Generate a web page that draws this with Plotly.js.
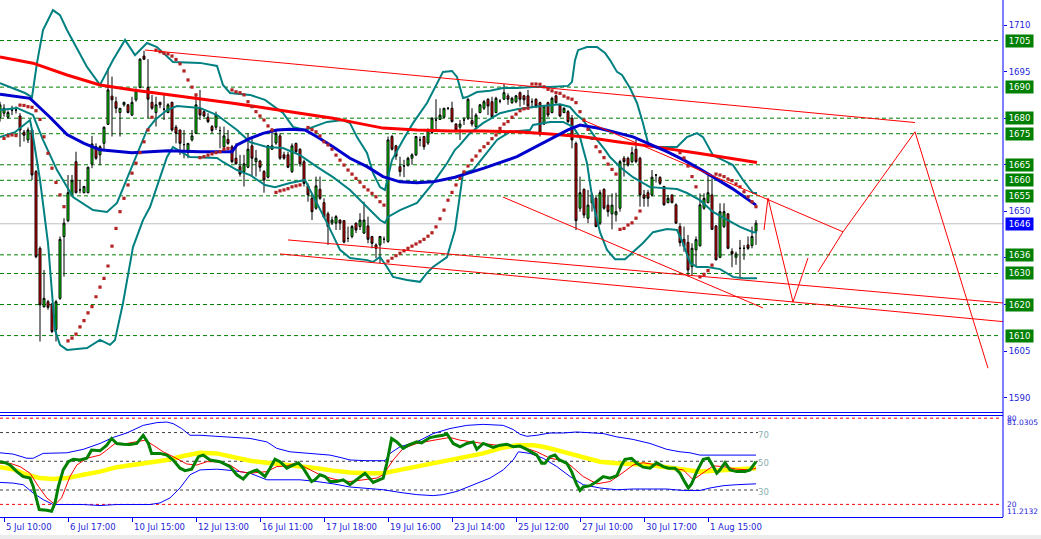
<!DOCTYPE html>
<html><head><meta charset="utf-8">
<script src="https://cdn.plot.ly/plotly-3.0.1.min.js"></script>
<style>html,body{margin:0;padding:0;background:#fff;overflow:hidden}#chart{width:1041px;height:539px}</style>
</head><body><div id="chart"></div>
<script>
// ---------- DATA ----------
const openP = [1680.3,1681.6,1680.3,1682.6,1682.6,1680.7,1675.5,1673.0,1676.2,1662.8,1638.1,1619.3,1620.9,1620.2,1612.0,1622.0,1641.9,1647.0,1655.3,1666.0,1656.9,1656.0,1656.0,1665.2,1670.8,1668.2,1671.9,1678.0,1687.1,1685.3,1681.8,1684.3,1684.3,1681.0,1685.9,1689.9,1700.0,1689.9,1685.1,1681.8,1685.1,1682.9,1681.8,1685.1,1677.1,1676.2,1671.5,1668.9,1673.0,1675.1,1683.2,1682.1,1680.3,1677.3,1677.1,1676.0,1670.8,1673.2,1670.8,1667.1,1664.4,1662.8,1664.2,1671.1,1666.0,1666.2,1662.8,1661.0,1670.0,1672.0,1674.3,1668.2,1668.2,1662.8,1671.9,1670.0,1666.0,1658.2,1654.2,1651.0,1657.1,1652.8,1649.2,1646.2,1646.2,1647.2,1647.0,1641.3,1641.9,1646.2,1645.1,1643.0,1645.3,1641.9,1639.2,1639.2,1641.0,1640.3,1674.1,1671.1,1664.4,1664.6,1664.9,1667.1,1668.2,1673.0,1674.1,1672.0,1675.4,1679.4,1679.6,1680.3,1683.2,1683.2,1678.1,1677.1,1679.4,1680.0,1679.2,1677.3,1681.8,1683.2,1686.1,1685.3,1681.8,1685.5,1686.1,1687.2,1685.0,1685.3,1688.2,1687.2,1687.2,1685.3,1686.1,1685.0,1678.1,1685.0,1681.8,1687.2,1684.3,1681.8,1682.1,1680.0,1671.9,1651.0,1657.1,1647.8,1652.8,1654.2,1646.2,1657.1,1652.0,1649.2,1648.9,1651.0,1667.1,1667.1,1666.0,1670.0,1667.1,1655.3,1656.0,1655.3,1661.7,1661.0,1658.0,1652.8,1655.3,1652.1,1645.1,1641.0,1640.0,1632.2,1637.6,1638.9,1651.0,1652.8,1655.3,1645.3,1635.2,1645.1,1649.2,1637.1,1635.2,1638.1,1638.1,1639.2,1639.0,1643.6];
const highP = [1685.3,1684.5,1682.5,1684.0,1683.8,1681.6,1676.2,1677.0,1676.5,1663.3,1638.7,1631.1,1621.5,1620.4,1621.5,1641.9,1647.8,1661.7,1661.7,1669.2,1660.1,1658.2,1664.4,1674.3,1671.9,1671.3,1677.3,1696.1,1693.4,1686.9,1683.2,1685.3,1684.6,1686.9,1689.6,1699.3,1701.7,1699.0,1687.5,1686.9,1685.3,1688.0,1684.8,1685.3,1677.8,1676.2,1676.2,1671.9,1676.2,1687.5,1689.1,1682.6,1681.6,1677.8,1682.1,1677.3,1677.3,1676.2,1671.4,1671.9,1668.2,1668.2,1675.1,1673.5,1669.8,1666.6,1663.3,1671.4,1676.7,1676.2,1675.1,1669.2,1669.2,1671.9,1672.1,1670.3,1666.6,1659.0,1655.8,1661.2,1661.2,1654.2,1649.9,1648.3,1648.8,1647.4,1647.2,1645.1,1645.6,1646.4,1649.4,1653.1,1648.3,1642.1,1639.7,1642.1,1641.9,1674.1,1674.6,1671.4,1667.6,1666.6,1667.6,1668.7,1674.3,1674.1,1674.3,1676.7,1680.3,1686.1,1683.2,1683.2,1683.5,1685.3,1678.4,1679.4,1680.3,1686.4,1683.2,1681.6,1684.6,1685.9,1686.4,1686.9,1686.9,1686.1,1691.0,1688.0,1686.9,1687.5,1688.6,1687.5,1689.1,1686.4,1686.4,1685.3,1684.3,1685.3,1686.9,1687.5,1684.6,1683.5,1682.6,1681.0,1672.5,1661.2,1657.4,1656.9,1656.0,1654.8,1656.9,1657.4,1655.3,1655.8,1656.0,1666.6,1667.8,1667.6,1670.8,1673.0,1667.6,1656.9,1656.9,1663.3,1662.0,1661.2,1658.2,1655.3,1655.3,1652.6,1646.2,1645.1,1642.4,1639.7,1641.9,1655.8,1655.8,1662.3,1660.6,1645.6,1652.6,1652.6,1649.4,1638.1,1637.0,1640.8,1639.2,1641.9,1645.1,1647.2];
const lowP = [1678.9,1680.5,1679.8,1681.0,1681.5,1670.8,1672.5,1672.0,1660.1,1634.9,1608.1,1619.0,1618.3,1610.8,1608.1,1621.5,1629.0,1646.5,1654.8,1655.8,1655.8,1655.8,1655.8,1663.9,1666.6,1664.9,1669.8,1677.8,1674.1,1681.6,1674.1,1683.7,1681.6,1680.7,1685.3,1689.6,1698.7,1680.0,1682.7,1677.3,1683.2,1679.4,1681.6,1675.7,1671.9,1668.2,1667.1,1667.1,1672.5,1674.9,1679.4,1680.3,1678.4,1675.1,1676.2,1670.3,1670.3,1671.4,1665.5,1665.0,1661.2,1658.0,1663.9,1661.2,1661.2,1662.8,1656.0,1660.6,1669.8,1671.4,1666.6,1666.6,1663.9,1662.3,1668.7,1664.4,1658.0,1653.1,1647.2,1650.5,1653.7,1647.8,1639.2,1645.6,1644.0,1644.0,1639.7,1640.1,1641.3,1643.0,1644.0,1642.7,1639.7,1638.1,1634.9,1633.3,1639.7,1639.9,1669.6,1666.6,1661.2,1661.0,1664.4,1665.0,1667.8,1670.9,1669.8,1671.4,1674.9,1676.2,1679.4,1680.0,1682.6,1678.6,1675.9,1673.0,1677.8,1679.4,1677.3,1676.2,1681.6,1682.6,1681.0,1680.0,1681.6,1684.8,1685.9,1684.3,1684.6,1684.8,1683.7,1684.3,1683.7,1683.2,1683.2,1674.1,1677.8,1680.3,1681.6,1684.6,1680.3,1681.6,1678.4,1670.3,1644.0,1649.9,1647.8,1646.2,1649.9,1644.9,1645.6,1650.5,1648.3,1644.2,1646.7,1649.9,1661.2,1664.4,1665.5,1665.5,1651.5,1651.5,1651.5,1654.8,1659.3,1658.5,1651.8,1652.6,1652.6,1646.0,1638.7,1637.0,1629.0,1629.2,1632.0,1638.7,1650.5,1652.6,1644.0,1634.2,1634.9,1644.6,1637.8,1632.0,1632.8,1628.8,1634.4,1637.6,1638.1,1639.2];
const closeP = [1684.3,1683.2,1681.8,1682.6,1682.6,1676.2,1674.5,1676.2,1661.7,1635.4,1619.9,1622.0,1619.1,1611.3,1620.9,1641.0,1646.2,1656.0,1659.9,1656.0,1656.9,1658.0,1664.2,1671.7,1667.1,1670.8,1677.1,1689.1,1685.9,1683.2,1683.2,1685.1,1681.8,1685.1,1689.1,1699.0,1699.0,1686.1,1683.2,1684.3,1684.3,1682.9,1684.3,1676.2,1675.1,1671.9,1671.5,1671.9,1674.3,1684.3,1681.0,1680.7,1678.9,1676.0,1681.0,1676.0,1674.3,1671.9,1666.0,1665.3,1662.0,1665.3,1670.0,1667.1,1667.1,1664.2,1660.1,1671.1,1671.1,1675.1,1667.1,1667.1,1664.2,1671.1,1669.2,1665.3,1659.0,1655.3,1649.9,1658.2,1654.2,1648.1,1645.1,1647.2,1648.3,1646.2,1640.1,1641.3,1645.1,1644.0,1647.2,1647.2,1641.0,1639.7,1638.1,1641.9,1641.0,1673.0,1670.0,1667.8,1662.8,1664.6,1667.1,1668.2,1674.1,1673.0,1670.8,1676.2,1680.0,1679.4,1681.0,1683.2,1683.2,1678.9,1676.2,1678.1,1679.4,1686.1,1678.1,1681.0,1684.3,1685.3,1683.9,1680.5,1686.4,1685.5,1688.2,1686.1,1686.4,1687.2,1686.1,1685.9,1683.9,1685.3,1683.9,1674.9,1683.9,1681.0,1686.4,1685.0,1680.7,1683.2,1678.9,1673.0,1647.0,1656.0,1648.8,1652.0,1655.3,1645.1,1656.0,1651.0,1649.9,1652.0,1649.9,1666.0,1666.0,1664.9,1668.9,1666.0,1655.3,1654.2,1654.2,1661.0,1661.7,1659.0,1652.1,1654.2,1652.8,1646.2,1639.9,1638.7,1631.1,1638.1,1640.9,1652.1,1654.2,1656.0,1644.2,1634.4,1649.9,1649.9,1638.1,1636.3,1636.3,1638.1,1638.1,1638.1,1641.9,1646.2];

const timeTickIdx = [1,17,33,49,65,81,97,113,129,145,161,177];
const timeTickLabels = ["5 Jul 10:00","6 Jul 17:00","10 Jul 15:00","12 Jul 13:00","16 Jul 11:00","17 Jul 18:00","19 Jul 16:00","23 Jul 14:00","25 Jul 12:00","27 Jul 10:00","30 Jul 17:00","1 Aug 15:00"];
const priceTicks = [1590,1605,1620,1635,1650,1665,1680,1695,1710];
const levelPrices = [1705,1690,1680,1675,1665,1660,1655,1636,1630,1620,1610];
const lastPrice = 1646;
const subLevels = [70,50,30];
const subOuterLevels = [80,20];
const subMax = 81.0305, subMin = 11.2132;

// moving averages (bar index, price)
const maRedIdx = [0,8.25,16.75,25,33.25,41.75,50,58.25,66.75,75,83.25,87.5,95.75,104.25,112.5,120.75,129.25,137.5,145.75,154.25,162.5,175,183.25,189.25];
const maRedVal = [1699.7,1697.7,1693.9,1690.7,1689.1,1687.7,1686.2,1684.8,1683.2,1681.7,1680.0,1678.9,1676.8,1676.2,1675.9,1675.9,1675.6,1674.9,1674.0,1672.4,1671.0,1668.6,1666.8,1665.7];
const maBlueIdx = [0,7.5,12.5,16.75,21,25,33,42,50,58,59.25,62.5,65.75,69.25,72.5,76.25,79.25,83.25,87.5,91.75,95.75,100,104.25,108.25,113.75,121,129.25,137.5,142,145,150,158.25,166.75,171,175,183,189];
const maBlueVal = [1687.7,1686.4,1680.3,1674.7,1671.9,1669.8,1668.9,1669.5,1669.2,1669.2,1671.4,1673.5,1675.1,1676.2,1676.4,1676.2,1674.0,1670.8,1667.1,1664.4,1661.2,1659.5,1659.2,1659.5,1661.0,1663.9,1667.6,1673.0,1676.2,1677.8,1676.7,1674.0,1669.2,1666.5,1663.6,1657.4,1652.0];

// Bollinger bands (bar index, price)
const bbUpIdx = [0,3.25,6.25,8,9.25,10.75,13.25,15,16.75,21.75,25,28.25,31.25,33.75,36.75,39.25,43.25,50,54.25,55.75,57.5,62.5,66.25,70.75,73.25,76.25,78.25,81.75,85.75,87.5,89.25,91.75,93.25,95,96.25,97,98,100.75,103.25,106.75,109.25,110.75,113,114.25,115.75,116.75,119.25,122.5,125.75,129.25,133.25,137.5,142,143,143.75,144.5,146.75,149.25,151.25,152.5,154.25,155.5,157.5,159.25,160.75,162,163.25,166.75,169.25,171.75,174.25,175.75,178.25,180.75,183.25,185.75,188.25,189.25];
const bbUpVal = [1691.3,1689.7,1688.1,1686.8,1697.8,1708.4,1714.8,1713.2,1708.4,1696.5,1690.7,1698.7,1705.2,1700.3,1704.2,1702.9,1698.1,1697.8,1696.8,1690.7,1688.1,1687.5,1685.9,1681.7,1677.2,1676.2,1677.2,1678.8,1679.4,1678.4,1673.9,1668.8,1662.4,1657.8,1656.9,1661.0,1666.5,1673.0,1678.4,1684.9,1691.3,1694.9,1695.2,1693.3,1686.5,1686.8,1688.4,1688.8,1689.7,1689.7,1690.0,1690.0,1690.4,1691.7,1698.7,1701.9,1702.9,1702.9,1701.0,1698.7,1694.9,1693.9,1689.7,1684.9,1678.4,1672.0,1670.7,1670.7,1670.7,1673.9,1675.2,1673.9,1668.1,1666.5,1664.9,1660.1,1655.9,1655.9];
const bbMidIdx = [0,4.25,8.25,10.75,14.25,18.25,23.25,26.75,29.25,33.25,36.75,38.75,41.75,44.25,50,54.25,59.25,62.5,66.75,70.75,75,79.25,83.25,87.5,91.75,95,96.25,97,100,104.25,108.25,111.75,113.75,115,117.5,120.75,125,129.25,133.25,137.5,140,142.5,144.25,145.75,147.5,149.25,151.25,152.5,155,158.25,162.5,166.75,169.25,171.75,175,178.25,181.75,185,188.25,189.25];
const bbMidVal = [1682.6,1683.3,1681.0,1673.0,1663.3,1654.6,1650.4,1649.8,1652.7,1665.5,1676.2,1679.4,1682.6,1683.9,1683.3,1681.0,1676.2,1672.3,1670.7,1670.4,1668.1,1664.3,1661.0,1656.9,1651.4,1647.2,1646.3,1648.2,1650.4,1652.7,1659.1,1665.5,1669.8,1671.4,1675.2,1678.4,1681.6,1682.9,1683.6,1684.2,1684.5,1683.6,1681.0,1679.4,1676.2,1673.0,1669.8,1667.5,1664.3,1661.0,1657.8,1657.5,1657.2,1655.9,1653.6,1649.8,1647.2,1645.0,1643.3,1643.3];
const bbLowIdx = [0,3.75,7.5,8,10,12,13.75,15,16.75,21.75,25,27.5,28.75,30.75,33.25,35.75,37.5,39.25,41.75,43.25,45.75,47.5,54.25,55.75,59.25,62.5,66.25,68.75,72.5,76.25,77.5,81.75,85,87.5,91.75,93.25,95,96.75,98.25,101.75,105,106.75,108.25,111.75,113.75,115.75,118.25,120.75,124.25,127.5,132.5,133.25,137.5,140.75,143.25,145,146.75,148.25,150,151.75,153.75,156.25,158.25,160.75,163.25,166.75,169.25,170.75,172.5,174.25,176.75,180,183.25,185.75,189.25];
const bbLowVal = [1673.9,1675.5,1679.4,1676.2,1660.1,1639.8,1611.8,1607.0,1605.4,1606.0,1608.6,1607.0,1608.6,1620.5,1638.5,1647.2,1651.4,1657.8,1667.5,1670.7,1668.8,1667.5,1667.2,1665.9,1663.3,1661.7,1658.5,1657.8,1659.1,1660.1,1656.9,1646.3,1637.6,1635.0,1634.3,1633.7,1635.3,1632.1,1628.9,1627.9,1627.3,1630.2,1632.1,1635.3,1644.0,1662.3,1663.3,1667.5,1673.0,1675.6,1676.2,1677.8,1678.8,1678.8,1677.2,1673.9,1665.5,1652.7,1643.3,1637.6,1634.6,1634.6,1636.9,1639.8,1643.3,1644.3,1644.0,1639.8,1633.4,1632.1,1632.1,1631.4,1628.9,1628.5,1628.5];

// Parabolic SAR (bar index, price)
const sarIdx = [1,2,3,4,5,6,7,8,9,10,11,12,13,14,15,16,17,18,19,20,21,22,23,24,25,26,27,28,29,30,31,32,33,34,35,36,37,38,39,40,41,42,43,44,45,46,47,48,49,50,51,52,53,54,55,56,57,58,59,60,61,62,63,64,65,66,67,68,69,70,71,72,73,74,75,77,78,79,80,81,82,83,84,85,86,87,88,89,90,91,92,93,94,95,96,97,98,99,100,101,102,103,104,105,106,107,108,109,110,111,112,113,114,115,116,117,118,119,120,121,122,123,124,125,126,127,128,129,130,131,132,133,134,135,136,137,138,139,140,141,142,143,144,145,146,147,148,149,150,151,152,153,154,155,156,157,158,159,160,170,171,172,173,174,175,176,177,178,179,180,181,182,183,184,185,186,187,188,189];
const sarVal = [1673.5,1674.3,1674.6,1674.4,1684.2,1684.1,1683.7,1683.5,1682.4,1679.6,1674.0,1668.7,1663.9,1659.3,1655.3,1651.5,1608.3,1609.2,1610.5,1612.8,1614.8,1617.3,1619.3,1622.5,1625.6,1628.4,1632.4,1638.8,1644.5,1649.9,1654.2,1658.5,1662.3,1665.5,1668.9,1672.4,1676.2,1680.3,1701.9,1701.4,1700.9,1700.7,1700.0,1698.9,1697.5,1695.2,1692.3,1690.0,1687.5,1667.3,1667.6,1668.1,1668.5,1668.9,1669.2,1670.0,1670.3,1689.1,1688.5,1688.2,1687.5,1685.3,1683.7,1682.1,1680.7,1679.4,1677.5,1676.2,1656.1,1656.6,1656.9,1657.3,1657.9,1658.2,1658.5,1677.0,1676.3,1675.6,1674.3,1672.4,1671.4,1670.0,1668.1,1666.5,1664.9,1663.3,1662.0,1660.6,1659.4,1657.9,1656.9,1655.8,1654.7,1653.1,1652.0,1634.0,1634.9,1635.7,1636.5,1637.3,1638.1,1638.8,1639.5,1640.2,1641.0,1642.0,1643.1,1645.0,1647.6,1650.4,1653.6,1656.1,1658.5,1660.6,1662.7,1664.6,1666.5,1667.8,1669.5,1670.8,1671.9,1673.4,1674.6,1676.7,1678.1,1678.9,1680.3,1681.3,1682.4,1683.0,1683.2,1691.0,1691.0,1690.9,1690.1,1689.3,1688.8,1688.2,1688.0,1687.1,1686.5,1686.1,1685.0,1682.1,1679.4,1676.4,1673.5,1670.8,1669.2,1667.3,1665.2,1663.5,1662.0,1644.2,1644.5,1645.6,1646.3,1647.8,1650.1,1668.9,1667.2,1664.6,1661.2,1657.9,1628.9,1629.7,1630.9,1632.7,1662.0,1661.7,1661.2,1660.4,1659.9,1658.8,1657.9,1656.3,1654.7,1653.1,1651.5];

// hand-drawn trend lines (bar index, price)
const tlUpperIdx = [36.25,228.75], tlUpperVal = [1701.95,1678.6];
const tlLow1Idx = [72,250.75], tlLow1Val = [1640.8,1620.5];
const tlLow2Idx = [70,250.75], tlLow2Val = [1636.3,1614.5];
const tlDesc1Idx = [125.75,190.75], tlDesc1Val = [1654.6,1618.9];
const tlDesc2Idx = [145.75,210.75], tlDesc2Val = [1679.4,1643.4];
const zigAIdx = [191,192,198.25,202], zigAVal = [1644.0,1654.3,1620.8,1635.0];
const zigBIdx = [204.5,210.75,228.75,247], zigBVal = [1630.5,1643.4,1675.6,1599.5];

// sub window: RSI & companions (bar index, value)
const rsiIdx = [0,1.25,2.5,4.2,5.8,7.5,8.3,9.2,9.8,11.7,12.9,13.75,14.6,15.8,17.1,18.3,20,21.7,22.9,25,26.7,27.9,29.2,30.8,32.5,34.2,35.8,37.1,37.9,40,41.7,43.3,45,46.25,47.9,49.6,50.8,52.5,55,57.5,59.2,60.8,62.1,64.2,66.25,67.5,68.75,70,71.7,73.3,74.6,75.8,77.9,78.75,80,81.25,82.5,84.2,85.8,87.5,89.2,91.25,93.3,95.8,96.7,97.9,99.2,100.8,102.1,104.2,105.4,107.5,109.2,110.8,111.7,113.3,115,116.7,118.3,119.2,120.8,122.1,123.3,125,126.7,128.3,130,131.7,133.3,134.2,135.4,136.25,137.5,138.75,139.6,141.7,142.9,144.2,145,145.8,147.5,149.2,150.8,152.5,154.2,155.4,156.25,157.9,159.2,160.8,162.5,164.2,165.8,167.1,168.75,170,171.25,172.1,172.9,174.2,175.8,177.1,178.3,179.2,180,181.25,182.5,184.2,186.25,187.5,189];
const rsiVal = [49.7,49.0,47.4,42.8,39.4,38.3,32.5,23.3,16.4,15.9,15.2,21.0,32.5,44.0,49.7,51.4,50.9,52.1,57.8,57.3,61.2,65.9,62.4,61.9,61.7,62.4,68.1,62.4,55.5,55.5,54.3,50.9,45.2,43.5,44.5,53.2,54.3,50.9,49.7,46.3,40.6,37.6,41.7,44.0,39.4,45.2,51.4,49.7,45.2,47.4,49.0,45.2,35.9,37.1,40.6,39.4,35.9,35.9,37.1,33.7,37.1,41.7,35.3,38.3,48.6,65.9,63.5,59.0,61.2,63.5,62.8,66.5,67.4,68.1,69.3,62.4,60.1,62.4,63.5,58.3,62.4,61.2,59.7,61.2,61.9,60.1,60.6,58.3,55.9,54.3,48.6,48.6,53.2,54.3,51.4,48.6,42.8,33.7,29.7,32.1,33.0,35.9,39.4,38.3,39.9,47.4,51.4,52.1,48.6,45.9,45.2,49.0,46.3,45.2,45.2,41.7,35.3,31.4,34.3,42.8,51.4,52.1,46.3,41.7,44.0,49.0,44.0,42.8,42.8,44.0,49.7];
const fastIdx = [0,2.5,5,7.5,9.6,11.7,13.75,15.4,17.5,19.2,21.7,25,26.7,28.75,31.7,34.2,36.25,38.3,40.8,43.3,46.7,49.2,51.7,54.2,57.5,60,62.5,66.7,69.2,71.7,74.2,76.7,80,82.5,85,87.5,90.8,94.2,95.8,98.3,100.8,104.2,107.5,110.8,112.5,115,117.5,120.8,124.2,127.5,130.8,134.2,137.5,140.8,142.5,145.8,149.2,152.5,155,158.3,160.8,164.2,167.5,170.8,173.3,175.8,178.3,180.8,184.2,187.5,189];
const fastVal = [48.6,48.6,46.3,41.7,32.5,24.5,19.9,24.5,39.4,47.4,52.1,54.3,57.8,62.4,62.4,63.5,64.7,61.2,56.6,53.2,48.1,47.4,49.7,49.7,47.4,42.8,41.7,42.8,46.3,46.8,49.0,45.2,40.6,38.3,36.6,35.9,37.1,38.3,40.6,50.9,59.0,62.4,64.2,65.9,66.6,64.7,63.5,62.4,61.2,61.2,59.7,56.6,52.1,50.4,47.4,39.4,34.3,35.9,40.6,47.4,49.0,47.4,45.2,44.0,37.1,41.7,46.8,46.3,44.5,44.0,45.2];
const slowIdx = [0,3.3,6.7,10,13.3,16.7,20.8,25,29.2,33.3,37.5,41.7,45.8,50,54.2,58.3,62.5,66.7,70.8,75,79.2,83.3,87.5,91.7,95.8,100,104.2,108.3,112.5,116.7,120.8,125,129.2,133.3,135.8,139.2,142.5,145.8,150,154.2,158.3,162.5,166.7,170.8,175,179.2,183.3,189];
const slowVal = [45.9,44.5,40.6,38.3,37.6,38.3,40.6,42.8,45.9,47.4,49.0,50.9,53.7,55.9,55.5,53.2,50.4,49.0,47.9,46.8,45.2,43.5,42.2,41.7,41.7,44.0,46.3,48.6,50.9,53.2,55.5,59.0,61.2,61.2,60.1,57.8,55.5,53.2,49.7,48.6,48.1,47.4,45.9,44.0,42.8,43.5,44.0,45.2];
const rbUpIdx = [0,3.3,6.7,8.3,10.8,14.2,16.7,20.8,25,28.3,31.7,35.8,39.2,41.7,43.3,45.4,47.5,50,54.2,58.3,62.5,66.7,69.2,72.5,75,78.3,82.5,85,87.5,91.7,96.25,97.5,100,104.2,108.3,112.5,116.7,120.8,125.8,128.3,130,131.7,134.2,137.5,140.8,144.2,147.5,150.8,154.2,158.3,162.5,166.7,170,172.5,175,176.7,189];
const rbUpVal = [55.9,55.0,52.1,52.1,55.5,55.9,55.9,58.3,62.4,66.6,69.7,75.0,76.9,77.3,76.2,72.8,68.1,68.1,67.4,67.0,65.9,63.5,59.0,56.6,55.9,55.5,54.3,52.7,50.9,50.4,50.4,55.5,60.1,63.5,69.3,72.8,75.0,75.7,75.0,72.1,68.8,67.4,68.1,69.7,69.7,70.4,69.7,69.3,67.0,65.2,62.4,58.3,56.6,55.9,54.3,54.3,54.3];
const rbLowIdx = [0,3.3,5.8,8.3,10.8,13.3,16.7,20.8,25,29.2,33.3,37.5,40,42.5,45,47.5,50,54.2,58.3,62.5,66.7,70.8,75,79.2,83.3,87.5,91.7,95.8,100,104.2,108.3,110.8,114.2,118.3,122.5,125.8,128.3,129.6,132.5,135.8,139.2,142.5,145.8,150,154.2,158.3,162.5,166.7,170.8,175,177.5,180.8,184.2,189];
const rbLowVal = [35.3,34.8,33.7,27.9,23.3,19.9,19.9,19.9,19.2,19.9,19.9,19.9,21.0,24.5,31.4,40.6,44.0,44.5,43.5,41.7,37.1,37.1,37.1,35.9,34.3,32.1,31.4,30.2,28.3,26.8,26.1,26.8,29.0,33.7,38.3,44.0,50.9,56.6,55.5,52.1,46.3,39.4,33.7,31.4,30.2,30.7,30.7,30.7,29.7,29.7,31.4,33.0,33.7,34.3];

// ---------- CHART ----------
const FONT = "DejaVu Sans";
const AXC = "#0000ff";
const TXC = "#2323d8";
const barIdx = closeP.map((_, k) => k);
const PW = 1003, PH = 517;           // plot area size in px
const py = px => (PH - px) / PH;     // pixel row -> paper y

function line(xs, ys, color, width, yaxis) {
  return {type:'scatter', mode:'lines', x:xs, y:ys, xaxis:'x', yaxis:yaxis||'y',
          line:{color:color, width:width}, hoverinfo:'skip'};
}

const traces = [
  {type:'candlestick', x:barIdx, open:openP, high:highP, low:lowP, close:closeP,
   xaxis:'x', yaxis:'y', whiskerwidth:0, hoverinfo:'skip',
   increasing:{line:{color:'#000000', width:1}, fillcolor:'#00ff00'},
   decreasing:{line:{color:'#000000', width:1}, fillcolor:'#ff0000'}},
  line(bbUpIdx, bbUpVal, '#008080', 2),
  line(bbMidIdx, bbMidVal, '#008080', 2),
  line(bbLowIdx, bbLowVal, '#008080', 2),
  line(maRedIdx, maRedVal, '#ff0000', 3),
  line(maBlueIdx, maBlueVal, '#0000cd', 3),
  {type:'scatter', mode:'markers', x:sarIdx, y:sarVal, xaxis:'x', yaxis:'y',
   marker:{symbol:'square', size:3.2, color:'#b22222'}, hoverinfo:'skip'},
  line(tlUpperIdx, tlUpperVal, '#ff0000', 1),
  line(tlLow1Idx, tlLow1Val, '#ff0000', 1),
  line(tlLow2Idx, tlLow2Val, '#ff0000', 1),
  line(tlDesc1Idx, tlDesc1Val, '#ff0000', 1),
  line(tlDesc2Idx, tlDesc2Val, '#ff0000', 1),
  line(zigAIdx, zigAVal, '#ff0000', 1),
  line(zigBIdx, zigBVal, '#ff0000', 1),
  // sub window
  line(slowIdx, slowVal, '#ffff00', 4.5, 'y2'),
  line(rbUpIdx, rbUpVal, '#0000ff', 1, 'y2'),
  line(rbLowIdx, rbLowVal, '#0000ff', 1, 'y2'),
  line(fastIdx, fastVal, '#ff0000', 1, 'y2'),
  line(rsiIdx, rsiVal, '#008000', 3, 'y2')
];

const shapes = [];
levelPrices.forEach(v => shapes.push({type:'line', layer:'below', xref:'paper', yref:'y',
  x0:0, x1:1000/PW, y0:v, y1:v, line:{color:'#008000', width:1, dash:'4px,3px'}}));
shapes.push({type:'line', layer:'below', xref:'paper', yref:'y', x0:0, x1:1, y0:lastPrice, y1:lastPrice,
  line:{color:'#c0c0c0', width:1}});
subLevels.forEach(v => shapes.push({type:'line', layer:'below', xref:'paper', yref:'y2',
  x0:0, x1:758/PW, y0:v, y1:v, line:{color:'#404040', width:1, dash:'3px,3px'}}));
subOuterLevels.forEach(v => shapes.push({type:'line', layer:'below', xref:'paper', yref:'y2',
  x0:0, x1:1000/PW, y0:v, y1:v, line:{color:'#ff0000', width:1, dash:'3px,3px'}}));
// frame lines
shapes.push({type:'line', xref:'paper', yref:'paper', x0:0, x1:1, y0:py(412.5), y1:py(412.5), line:{color:AXC, width:1}});
shapes.push({type:'line', xref:'paper', yref:'paper', x0:0, x1:1, y0:py(415.5), y1:py(415.5), line:{color:AXC, width:1}});
shapes.push({type:'line', xref:'paper', yref:'paper', x0:1, x1:1, y0:0, y1:1, line:{color:AXC, width:1}});
shapes.push({type:'rect', xref:'paper', yref:'paper', x0:0, x1:1041/PW, y0:py(539), y1:py(535),
  fillcolor:'#ececec', line:{width:0}});

const annotations = [];
levelPrices.forEach(v => annotations.push({xref:'paper', x:1, xanchor:'left', xshift:2,
  yref:'y', y:v, yanchor:'middle', text:String(v), showarrow:false, bgcolor:'#008000',
  width:27, height:12, borderpad:0, font:{family:FONT, size:8.5, color:'#ffffff'}}));
annotations.push({xref:'paper', x:1, xanchor:'left', xshift:2, yref:'y', y:lastPrice,
  yanchor:'middle', text:String(lastPrice), showarrow:false, bgcolor:'#0000ff',
  width:27, height:12, borderpad:0, font:{family:FONT, size:8.5, color:'#ffffff'}});
timeTickIdx.forEach((ix, k) => annotations.push({xref:'x', x:ix, xanchor:'left', xshift:0,
  yref:'paper', y:0, yanchor:'top', yshift:-3, text:timeTickLabels[k], showarrow:false,
  font:{family:FONT, size:8.5, color:TXC}}));
subLevels.forEach(v => annotations.push({xref:'paper', x:763/PW, xanchor:'center',
  yref:'y2', y:v, yanchor:'middle', yshift:-2, text:String(v), showarrow:false,
  font:{family:FONT, size:8.5, color:'#8ab0b0'}}));
annotations.push({xref:'paper', x:1, xanchor:'left', xshift:2, yref:'y2', y:subMax, yanchor:'top', yshift:1,
  text:subMax.toFixed(4), showarrow:false, font:{family:FONT, size:7.5, color:TXC}});
annotations.push({xref:'paper', x:1, xanchor:'left', xshift:2, yref:'y2', y:subOuterLevels[0], yanchor:'middle',
  text:String(subOuterLevels[0]), showarrow:false, font:{family:FONT, size:7.5, color:TXC}});
annotations.push({xref:'paper', x:1, xanchor:'left', xshift:2, yref:'y2', y:subOuterLevels[1], yanchor:'middle',
  text:String(subOuterLevels[1]), showarrow:false, font:{family:FONT, size:7.5, color:TXC}});
annotations.push({xref:'paper', x:1, xanchor:'left', xshift:2, yref:'y2', y:subMin, yanchor:'bottom', yshift:-1,
  text:subMin.toFixed(4), showarrow:false, font:{family:FONT, size:7.5, color:TXC}});

const layout = {
  width:1041, height:539,
  margin:{l:0, r:38, t:0, b:22, pad:0},
  paper_bgcolor:'#ffffff', plot_bgcolor:'#ffffff',
  showlegend:false, dragmode:false,
  xaxis:{range:[0, 250.75], anchor:'y2', showgrid:false, zeroline:false, showticklabels:false,
         tickvals:timeTickIdx, ticks:'outside', ticklen:4, tickcolor:AXC,
         showline:true, linecolor:AXC, linewidth:1, rangeslider:{visible:false}, fixedrange:true},
  yaxis:{domain:[py(413.3), 1], range:[1584.98, 1718.05], side:'right', anchor:'x',
         showgrid:false, zeroline:false, showline:false, tickvals:priceTicks,
         ticks:'outside', ticklen:3, tickcolor:AXC,
         tickfont:{family:FONT, size:8.5, color:TXC}, fixedrange:true},
  yaxis2:{domain:[0, py(416.7)], range:[subMin, subMax], anchor:'x', showgrid:false,
          zeroline:false, showticklabels:false, ticks:'', showline:false, fixedrange:true},
  shapes:shapes, annotations:annotations
};

Plotly.newPlot('chart', traces, layout, {staticPlot:true, displayModeBar:false});
</script>
</body></html>
